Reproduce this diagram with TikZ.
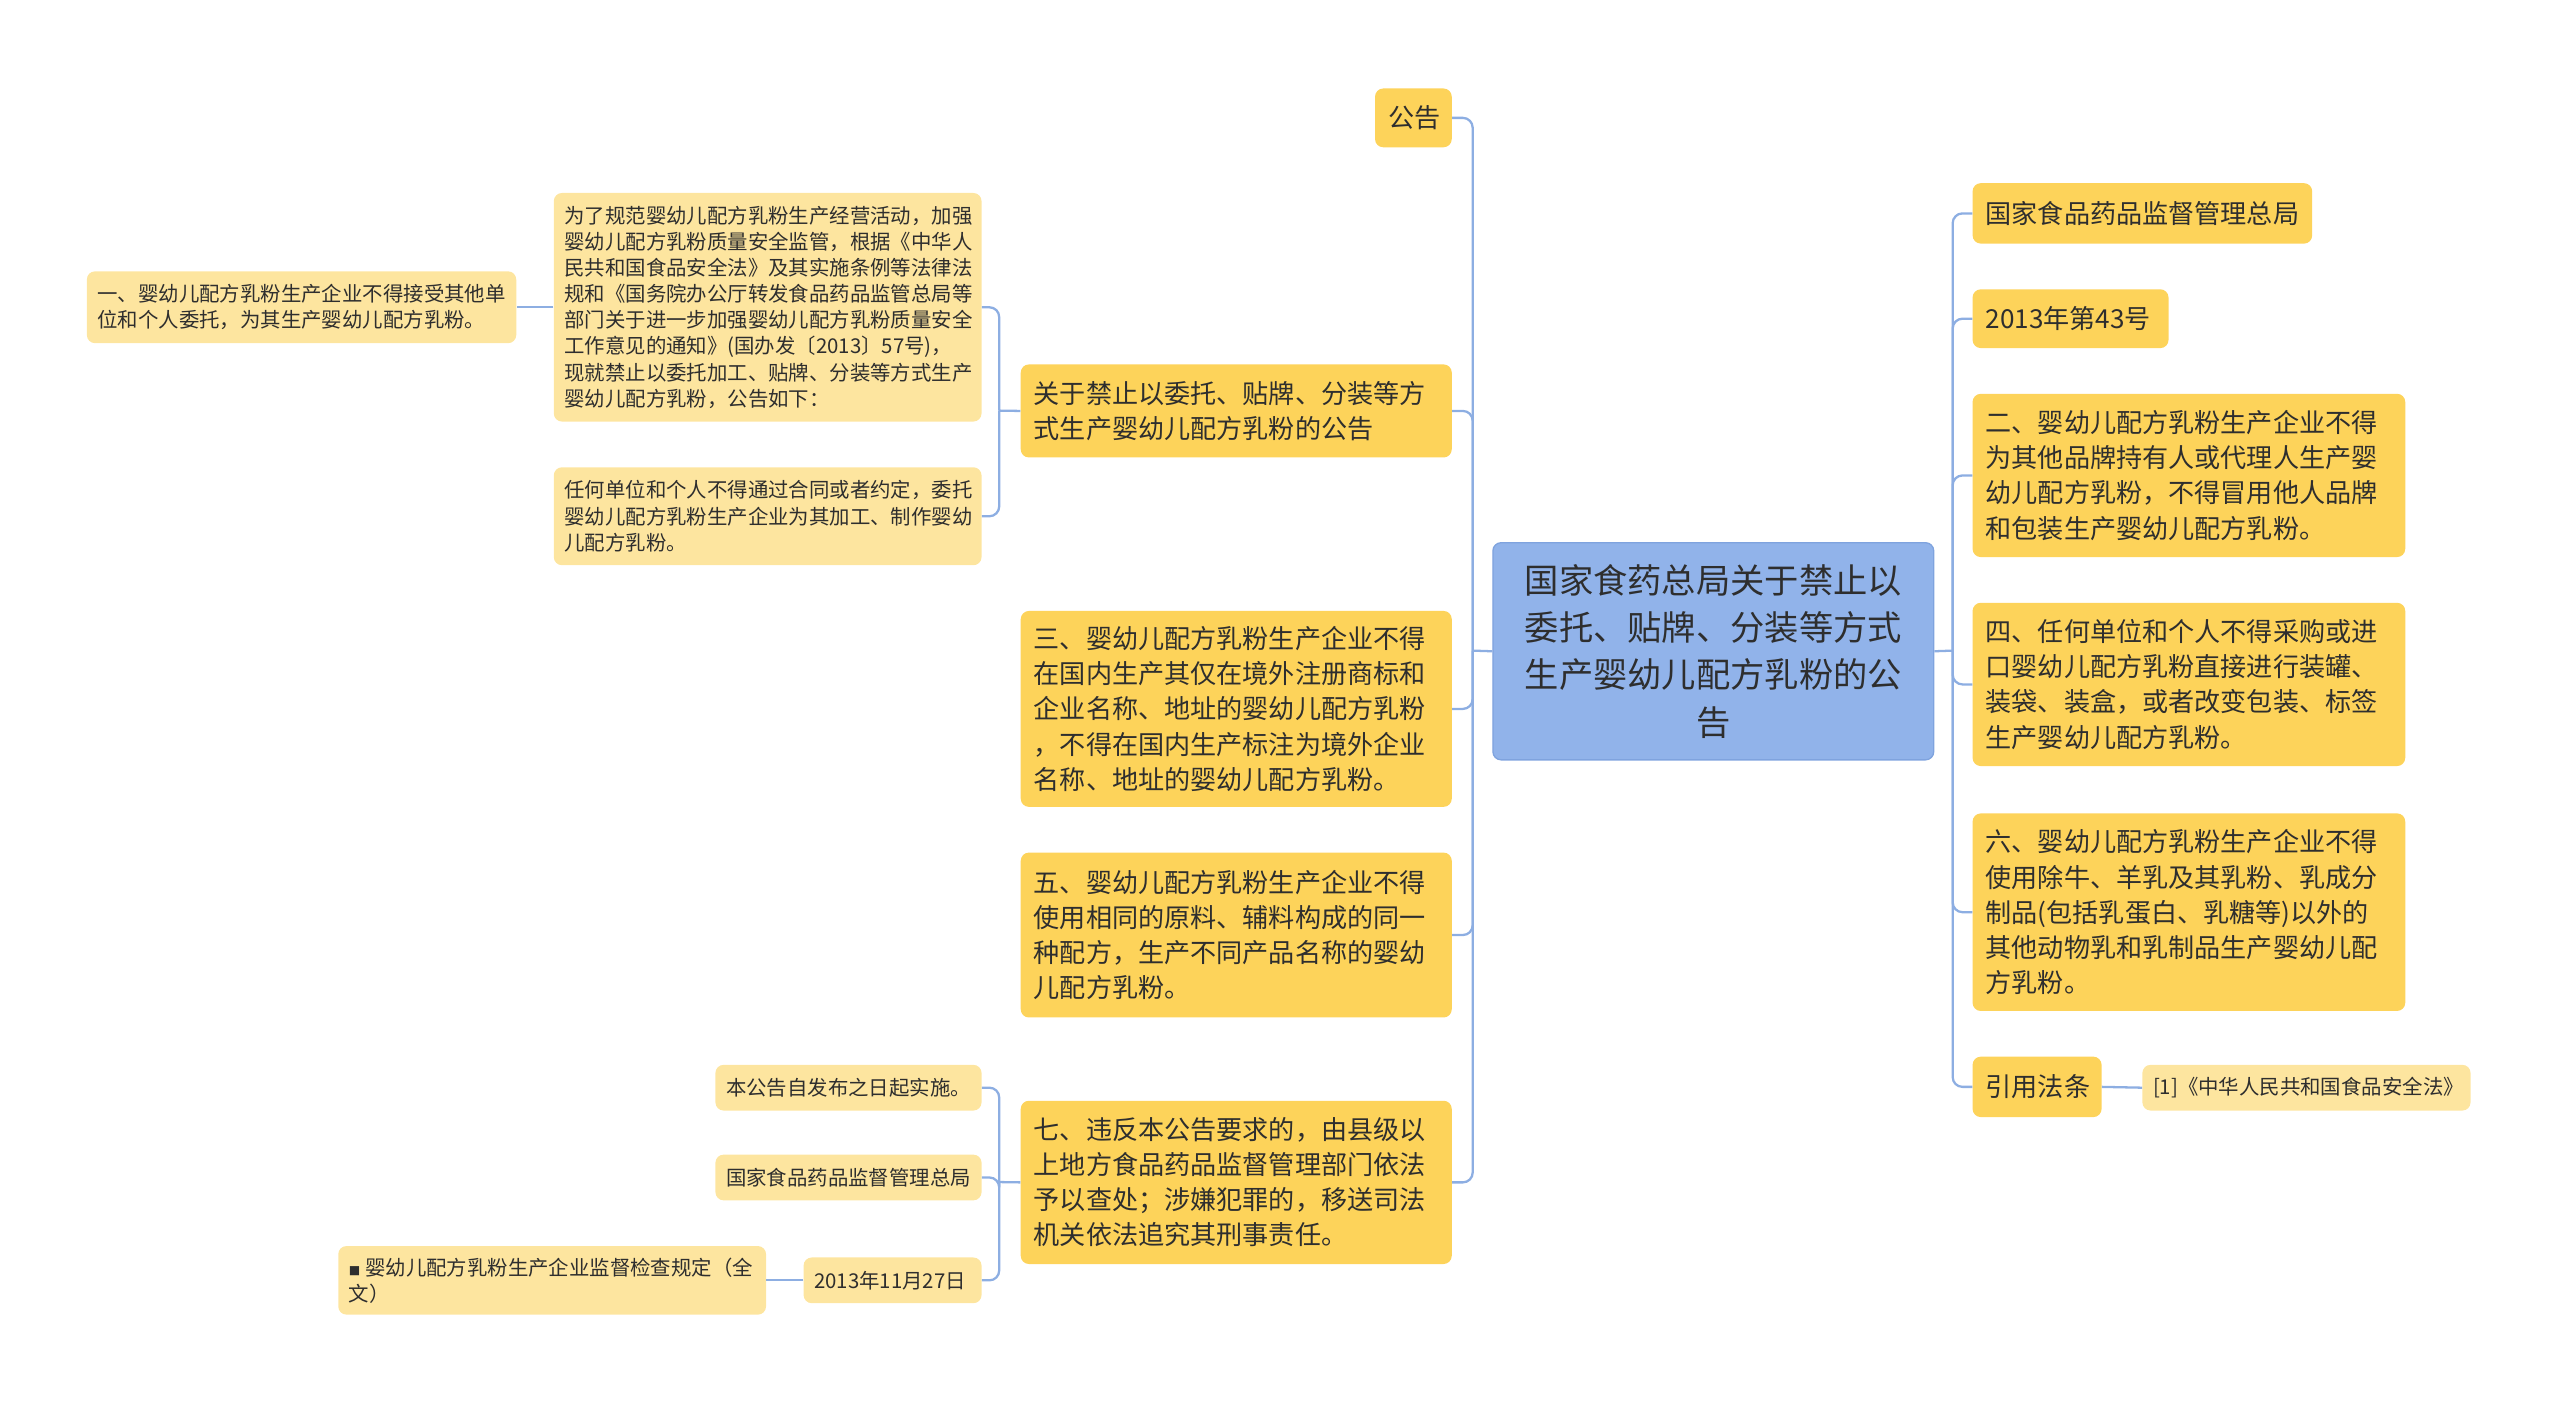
\documentclass[tikz,border=0pt]{standalone}
\usepackage{fontspec}
\setmainfont{Noto Sans CJK SC}
\definecolor{gold}{HTML}{FDD35A}
\definecolor{pale}{HTML}{FDE59F}
\definecolor{sky}{HTML}{91B3EA}
\definecolor{skyline}{HTML}{7FA3DE}
\definecolor{conncol}{HTML}{8DAEE2}
\definecolor{ink}{HTML}{2E2E2E}
\tikzset{
  base/.style={anchor=north west, rounded corners=5pt, inner ysep=0pt, align=left, text=ink},
  lvone/.style={base, fill=gold, inner xsep=8pt, font=\fontsize{16}{21.5}\selectfont},
  lvtwo/.style={base, fill=pale, inner xsep=6.5pt, font=\fontsize{12.5}{16}\selectfont},
  rootbox/.style={anchor=north west, rounded corners=5pt, fill=sky, draw=skyline, line width=0.8pt, align=center, text=ink, inner sep=0pt, font=\fontsize{21}{29}\selectfont},
  conn/.style={draw=conncol, line width=1.4pt, rounded corners=6pt}
}
\begin{document}
\begin{tikzpicture}[x=1pt,y=-1pt]
\useasboundingbox (0,0) rectangle (1568,860);
% root
\node[rootbox, minimum width=270pt, minimum height=133pt] (root) at (914,332) {国家食药总局关于禁止以\\委托、贴牌、分装等方式\\生产婴幼儿配方乳粉的公\\告};
\coordinate (tR) at (1196,398.5);
\coordinate (tL) at (902,398.5);
% right side
\node[lvone, text width=192pt, minimum height=37pt] (R1) at (1208,112) {国家食品药品监督管理总局};
\node[lvone, text width=104pt, minimum height=36pt] (R2) at (1208,177) {2013年第43号};
\node[lvone, text width=249pt, minimum height=100pt] (R3) at (1208,241) {二、婴幼儿配方乳粉生产企业不得\\为其他品牌持有人或代理人生产婴\\幼儿配方乳粉，不得冒用他人品牌\\和包装生产婴幼儿配方乳粉。};
\node[lvone, text width=249pt, minimum height=100pt] (R4) at (1208,369) {四、任何单位和个人不得采购或进\\口婴幼儿配方乳粉直接进行装罐、\\装袋、装盒，或者改变包装、标签\\生产婴幼儿配方乳粉。};
\node[lvone, text width=249pt, minimum height=121pt] (R5) at (1208,498) {六、婴幼儿配方乳粉生产企业不得\\使用除牛、羊乳及其乳粉、乳成分\\制品(包括乳蛋白、乳糖等)以外的\\其他动物乳和乳制品生产婴幼儿配\\方乳粉。};
\node[lvone, text width=63pt, minimum height=37pt] (R6) at (1208,647) {引用法条};
\node[lvtwo, text width=188pt, minimum height=28pt] (R6a) at (1312,652) {[1]《中华人民共和国食品安全法》};
% left side
\node[lvone, text width=31pt, minimum height=36pt] (L1) at (842,54) {公告};
\node[lvone, text width=248pt, minimum height=57pt] (L2) at (625,223) {关于禁止以委托、贴牌、分装等方\\式生产婴幼儿配方乳粉的公告};
\node[lvone, text width=248pt, minimum height=120pt] (L3) at (625,374) {三、婴幼儿配方乳粉生产企业不得\\在国内生产其仅在境外注册商标和\\企业名称、地址的婴幼儿配方乳粉\\，不得在国内生产标注为境外企业\\名称、地址的婴幼儿配方乳粉。};
\node[lvone, text width=248pt, minimum height=101pt] (L4) at (625,522) {五、婴幼儿配方乳粉生产企业不得\\使用相同的原料、辅料构成的同一\\种配方，生产不同产品名称的婴幼\\儿配方乳粉。};
\node[lvone, text width=248pt, minimum height=100pt] (L5) at (625,674) {七、违反本公告要求的，由县级以\\上地方食品药品监督管理部门依法\\予以查处；涉嫌犯罪的，移送司法\\机关依法追究其刑事责任。};
% level 2 under L2
\node[lvtwo, text width=249pt, minimum height=140pt] (L2a) at (339,118) {为了规范婴幼儿配方乳粉生产经营活动，加强\\婴幼儿配方乳粉质量安全监管，根据《中华人\\民共和国食品安全法》及其实施条例等法律法\\规和《国务院办公厅转发食品药品监管总局等\\部门关于进一步加强婴幼儿配方乳粉质量安全\\工作意见的通知》(国办发〔2013〕57号)，\\现就禁止以委托加工、贴牌、分装等方式生产\\婴幼儿配方乳粉，公告如下：};
\node[lvtwo, text width=249pt, minimum height=60pt] (L2b) at (339,286) {任何单位和个人不得通过合同或者约定，委托\\婴幼儿配方乳粉生产企业为其加工、制作婴幼\\儿配方乳粉。};
\node[lvtwo, text width=250pt, minimum height=44pt] (L2a1) at (53,166) {一、婴幼儿配方乳粉生产企业不得接受其他单\\位和个人委托，为其生产婴幼儿配方乳粉。};
% level 2 under L5
\node[lvtwo, text width=150pt, minimum height=28pt] (L5a) at (438,652) {本公告自发布之日起实施。};
\node[lvtwo, text width=150pt, minimum height=28pt] (L5b) at (438,707) {国家食品药品监督管理总局};
\node[lvtwo, text width=96pt, minimum height=28pt] (L5c) at (492,770) {2013年11月27日};
\node[lvtwo, text width=249pt, minimum height=42pt] (L5c1) at (207,763) {\mbox{{\fontsize{7}{16}\selectfont ■}\hspace{3pt}婴幼儿配方乳粉生产企业监督检查规定（全}\\文）};
\coordinate (tL2) at (612,251.5);
\coordinate (tL5) at (612,724);
% connectors
\draw[conn] (root.east) -- (tR);
\draw[conn] (root.west) -- (tL);
\foreach \n in {R1,R2,R3,R4,R5,R6} \draw[conn] (\n.west) -| (tR);
\foreach \n in {L1,L2,L3,L4,L5} \draw[conn] (\n.east) -| (tL);
\draw[conn] (R6.east) -- (R6a.west);
\draw[conn] (L2.west) -- (tL2);
\foreach \n in {L2a,L2b} \draw[conn] (\n.east) -| (tL2);
\draw[conn] (L2a.west) -- (L2a1.east);
\draw[conn] (L5.west) -- (tL5);
\foreach \n in {L5a,L5b,L5c} \draw[conn] (\n.east) -| (tL5);
\draw[conn] (L5c.west) -- (L5c1.east);
\end{tikzpicture}
\end{document}
